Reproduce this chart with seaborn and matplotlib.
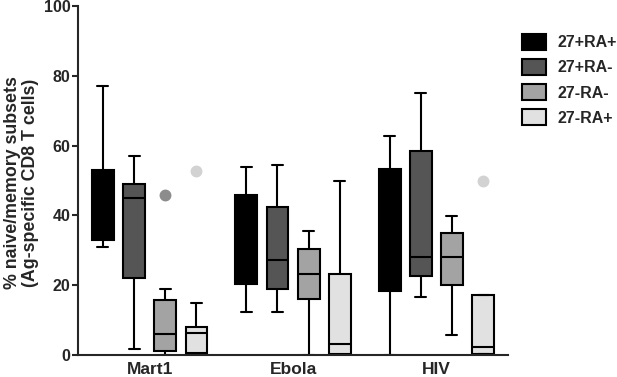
import numpy as np
import pandas as pd
import matplotlib
matplotlib.use("Agg")
import matplotlib.pyplot as plt
import seaborn as sns

# --- data ---
groups = ["Mart1", "Ebola", "HIV"]
subsets = ["27+RA+", "27+RA-", "27-RA-", "27-RA+"]

# five-number summaries: low whisker, Q1, median, Q3, high whisker
# one row per group (Mart1, Ebola, HIV)
cd27p_rap = [[31, 33, 40, 53, 77], [12.4, 20.3, 29, 45.7, 53.8], [0, 18.3, 42, 53.2, 62.6]]
cd27p_ran = [[1.8, 22, 44.9, 49.1, 57.1], [12.4, 18.8, 27.2, 42.5, 54.5], [16.6, 22.6, 28, 58.5, 75]]
cd27n_ran = [[0, 1, 6, 15.8, 18.9], [0, 16, 23.2, 30.4, 35.6], [5.7, 20, 28, 34.9, 39.9]]
cd27n_rap = [[0.3, 0.7, 6.2, 7.9, 15], [0, 0.2, 3.1, 23.2, 49.9], [0.2, 0.2, 2.4, 17.1, 17.1]]

# outliers drawn as dots
out_group = ["Mart1", "Mart1", "HIV"]
out_subset = ["27-RA-", "27-RA+", "27-RA+"]
out_value = [45.8, 52.8, 49.9]

box_colors = ["#000000", "#555555", "#a3a3a3", "#e1e1e1"]
dot_colors = ["#000000", "#555555", "#8c8c8c", "#d2d2d2"]

rows = []
for subset, summ in zip(subsets, [cd27p_rap, cd27p_ran, cd27n_ran, cd27n_rap]):
    for g, vals in zip(groups, summ):
        for v in vals:
            rows.append((g, subset, v))
df = pd.DataFrame(rows, columns=["group", "subset", "value"])
out_df = pd.DataFrame({"group": out_group, "subset": out_subset, "value": out_value})

sns.set_style("ticks")
plt.rcParams["font.family"] = ["Liberation Sans", "DejaVu Sans"]
plt.rcParams["font.weight"] = "bold"
plt.rcParams["axes.linewidth"] = 1.5

fig = plt.figure(figsize=(6.17, 3.77), dpi=100)
ax = fig.add_axes([0.1264, 0.0584, 0.697, 0.926])

box_width = 0.87
sns.boxplot(data=df, x="group", y="value", hue="subset", order=groups,
            hue_order=subsets, palette=box_colors, saturation=1,
            width=box_width, gap=0.3, whis=(0, 100), linecolor="black",
            linewidth=1.5, fliersize=0, ax=ax)

# outliers, dodged the same way as the boxes
sns.pointplot(data=out_df, x="group", y="value", hue="subset", order=groups,
              hue_order=subsets, palette=dot_colors, dodge=box_width * 3 / 4,
              linestyle="none", markers="o", markersize=6.5, errorbar=None,
              legend=False, ax=ax)

ax.set_ylim(0, 100)
ax.set_xlim(-0.5, 2.5)
ax.set_yticks([0, 20, 40, 60, 80, 100])
ax.tick_params(axis="y", length=4.5, width=1.5, pad=1, labelsize=11.5)
ax.tick_params(axis="x", length=0, pad=5, labelsize=12.5)
for lab in ax.get_xticklabels() + ax.get_yticklabels():
    lab.set_fontweight("bold")

ax.set_xlabel("")
ax.set_ylabel("% naive/memory subsets\n(Ag-specific CD8 T cells)",
              fontsize=12.8, fontweight="bold", linespacing=1.1)
ax.yaxis.set_label_coords(-0.09, 0.493)
sns.despine(ax=ax)

handles, labels = ax.get_legend_handles_labels()
ax.legend(handles[:4], labels[:4], loc="upper left",
          bbox_to_anchor=(0.846, 0.91), bbox_transform=fig.transFigure,
          frameon=False, handlelength=1.5, handleheight=1.15,
          handletextpad=0.7, labelspacing=0.55, borderpad=0, borderaxespad=0,
          prop={"weight": "bold", "size": 11.5})

fig.savefig("out.png", dpi=100)
